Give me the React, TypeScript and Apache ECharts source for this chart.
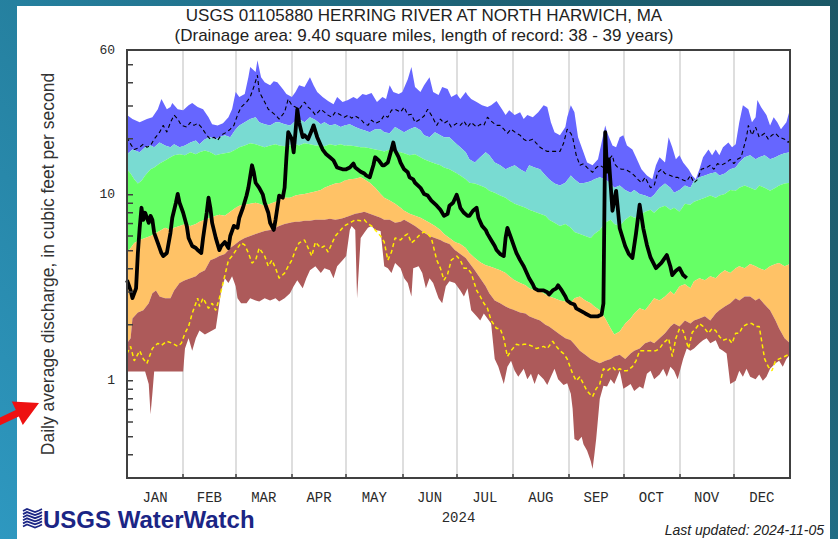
import React, { useEffect, useRef } from "react";
import * as echarts from "echarts";

type Pt = [number, number];

const TITLE = "USGS 01105880 HERRING RIVER AT NORTH HARWICH, MA";
const SUBTITLE = "(Drainage area: 9.40 square miles, length of record: 38 - 39 years)";
const Y_NAME = "Daily average discharge, in cubic feet per second";
const UPDATED = "Last updated: 2024-11-05";
const MONTHS = ["JAN", "FEB", "MAR", "APR", "MAY", "JUN", "JUL", "AUG", "SEP", "OCT", "NOV", "DEC"];
const MONTH_START_DAY = [0, 31, 60, 91, 121, 152, 182, 213, 244, 274, 305, 335, 366];
const YEAR_LABEL = "2024";
const Y_LABELS = [1, 10, 60];
const Y_TICKS = [0.4, 0.5, 0.6, 0.7, 0.8, 0.9, 1, 2, 3, 4, 5, 6, 7, 8, 9, 10, 20, 30, 40, 50];

// [day of year, cfs]
const MAX_FLOW: Pt[] = [[0,26.8],[3,25.5],[7,24.5],[11,25.5],[14,26.1],[17,28.8],[19,32.7],[22,28.8],[24,29.6],[25,31.1],[28,28.8],[31,28.5],[34,30.3],[36,31.1],[39,29.6],[42,28.8],[45,26.1],[47,23.9],[50,23.6],[53,24.2],[56,26.1],[58,28.8],[60,35.7],[62,33.5],[65,34.8],[67,42.8],[68,48.6],[71,45.7],[72,52.9],[74,42.8],[76,40.3],[79,38.8],[81,40.8],[83,40.3],[86,37.0],[88,34.8],[91,33.5],[93,35.7],[95,38.8],[98,38.0],[101,42.8],[103,38.8],[105,35.7],[108,33.5],[111,31.9],[114,30.7],[116,33.5],[119,31.5],[122,32.3],[125,33.5],[127,32.7],[130,34.8],[132,34.4],[135,35.2],[138,31.5],[141,33.5],[143,32.7],[145,38.8],[147,35.7],[150,34.8],[152,35.7],[155,41.8],[157,48.6],[159,38.0],[162,35.7],[164,38.8],[167,42.8],[169,35.7],[172,34.4],[174,38.0],[177,37.0],[179,33.5],[182,34.8],[184,32.7],[187,35.7],[188,34.4],[190,32.7],[193,31.5],[196,30.3],[199,29.6],[201,30.3],[204,31.9],[207,28.8],[209,26.8],[211,28.5],[214,26.8],[217,27.8],[219,25.5],[221,26.8],[224,26.1],[227,27.8],[230,30.3],[232,29.6],[234,24.5],[236,21.7],[239,20.9],[242,23.1],[243,26.1],[245,30.3],[247,27.8],[249,20.4],[252,16.9],[254,14.9],[257,14.4],[260,15.5],[262,19.1],[264,23.6],[265,21.7],[268,18.4],[270,18.0],[272,20.4],[274,20.9],[276,18.4],[279,17.5],[281,15.9],[284,13.7],[287,12.7],[290,12.1],[292,14.4],[294,15.9],[297,14.9],[299,20.4],[301,18.0],[303,15.5],[305,16.3],[307,14.9],[310,13.7],[312,12.7],[314,12.1],[316,13.7],[318,15.9],[321,17.5],[323,16.3],[325,17.5],[327,16.3],[329,18.0],[332,19.1],[334,18.0],[336,18.7],[338,24.5],[340,30.3],[343,28.8],[345,24.5],[347,26.1],[348,32.3],[350,29.6],[353,26.8],[355,23.6],[357,26.1],[359,24.5],[361,22.5],[364,24.5],[366,28.8]];

const P90_FLOW: Pt[] = [[0,16.5],[3,17.5],[7,16.9],[10,18.0],[13,18.4],[15,18.0],[18,19.1],[21,18.4],[24,18.0],[26,18.7],[29,18.0],[32,18.4],[35,19.1],[38,19.6],[40,18.7],[43,19.9],[46,20.4],[49,19.9],[51,20.4],[54,20.9],[57,20.4],[60,22.5],[62,23.6],[65,24.5],[68,25.5],[71,26.1],[73,24.5],[76,23.9],[79,23.6],[82,24.5],[84,24.5],[87,23.9],[90,23.6],[93,24.9],[95,25.5],[98,24.5],[101,26.1],[104,25.2],[107,23.9],[109,24.5],[112,23.6],[115,23.9],[118,23.1],[120,23.6],[123,23.9],[126,23.1],[129,22.5],[131,22.2],[134,21.7],[137,22.5],[140,22.5],[142,21.7],[145,21.4],[148,23.1],[151,22.2],[153,21.7],[156,22.5],[159,23.1],[162,22.2],[164,20.9],[167,20.4],[170,21.7],[173,20.9],[175,20.4],[178,20.4],[181,19.1],[184,18.0],[187,16.9],[189,15.5],[192,14.9],[195,15.9],[198,16.9],[200,16.3],[203,14.9],[206,14.4],[209,13.7],[211,14.0],[214,14.4],[217,13.7],[220,13.2],[222,14.4],[225,14.0],[228,13.7],[231,12.7],[233,12.1],[236,11.5],[239,11.2],[242,11.6],[245,12.7],[247,12.1],[250,11.5],[253,11.6],[256,11.8],[258,12.1],[261,12.4],[264,12.1],[267,11.5],[269,10.9],[272,11.2],[275,10.6],[278,10.25],[280,10.6],[283,10.1],[286,9.9],[289,9.64],[291,10.0],[294,10.9],[297,11.5],[300,10.9],[302,10.25],[305,10.6],[308,11.2],[311,10.9],[313,11.9],[316,12.4],[319,12.7],[322,13.0],[325,13.2],[327,12.7],[330,13.0],[333,13.7],[336,14.0],[338,14.9],[341,15.9],[344,16.3],[347,15.5],[349,15.9],[352,16.3],[355,15.5],[358,15.9],[360,16.3],[363,16.7],[366,16.9]];

const P75_FLOW: Pt[] = [[0,13.7],[2,13.0],[4,12.1],[6,11.5],[8,11.9],[10,12.7],[13,13.7],[15,14.0],[18,14.7],[21,15.3],[24,15.9],[26,16.3],[29,16.5],[32,16.3],[35,16.9],[38,16.5],[40,16.9],[43,17.3],[46,16.9],[49,16.3],[51,16.5],[54,16.7],[57,16.9],[60,17.5],[62,18.0],[65,18.4],[68,18.9],[71,18.7],[73,18.4],[76,18.0],[79,18.4],[82,18.7],[84,18.4],[87,18.2],[90,18.4],[93,18.7],[95,18.4],[98,18.9],[101,18.7],[104,18.4],[107,18.4],[109,18.2],[112,18.7],[115,18.4],[118,18.7],[120,18.4],[123,18.4],[126,18.2],[129,18.0],[131,18.0],[134,17.8],[137,17.5],[140,17.3],[142,17.1],[145,17.5],[148,17.1],[151,16.9],[153,16.7],[156,16.3],[159,16.5],[162,15.9],[164,15.5],[167,15.1],[170,14.7],[173,14.4],[175,14.0],[178,13.7],[181,13.2],[184,12.7],[187,12.1],[189,11.6],[192,11.5],[195,11.2],[198,10.9],[200,10.5],[203,10.25],[206,9.9],[209,9.64],[211,9.3],[214,8.95],[217,8.73],[220,8.51],[222,8.3],[225,8.1],[228,7.9],[231,7.7],[233,7.33],[236,7.06],[239,6.8],[242,6.97],[245,6.64],[247,6.31],[250,6.16],[253,6.0],[256,5.86],[258,6.16],[261,6.47],[264,7.06],[267,7.33],[269,6.97],[272,6.8],[275,7.33],[278,7.7],[280,7.52],[283,7.7],[286,8.1],[289,8.3],[291,8.0],[294,8.51],[297,8.73],[300,8.3],[302,8.51],[305,8.1],[308,8.95],[311,8.84],[313,9.17],[316,9.4],[319,9.64],[322,9.9],[325,9.64],[327,9.9],[330,10.1],[333,10.6],[336,10.5],[338,10.9],[341,11.2],[344,10.9],[347,10.6],[349,11.2],[352,10.9],[355,10.5],[358,10.9],[360,11.2],[363,11.5],[366,11.6]];

const P25_FLOW: Pt[] = [[0,4.86],[2,5.17],[4,5.51],[7,5.71],[10,5.86],[13,6.0],[15,6.16],[18,6.39],[21,6.64],[24,6.47],[26,6.64],[29,6.8],[32,6.97],[35,6.8],[38,6.97],[40,7.15],[43,7.33],[46,7.52],[49,7.7],[51,7.8],[54,7.7],[57,8.1],[60,8.51],[62,8.73],[65,8.84],[68,8.95],[71,9.06],[73,8.95],[76,8.73],[79,8.95],[82,9.17],[84,9.4],[87,9.64],[90,9.64],[93,9.9],[95,10.0],[98,10.1],[101,10.25],[104,10.4],[107,10.6],[109,10.9],[112,11.2],[115,11.5],[118,11.6],[120,11.9],[123,12.1],[126,12.2],[129,12.4],[131,12.1],[134,11.6],[137,10.9],[140,10.1],[142,9.64],[145,9.3],[148,8.95],[151,8.51],[153,8.2],[156,7.9],[159,7.7],[162,7.52],[164,7.33],[167,7.06],[170,6.8],[173,6.47],[175,6.16],[178,5.86],[181,5.57],[184,5.44],[187,5.17],[189,4.86],[192,4.57],[195,4.34],[198,4.18],[200,4.13],[203,4.03],[206,3.93],[209,3.79],[211,3.65],[214,3.47],[217,3.35],[220,3.26],[222,3.14],[225,3.06],[228,3.03],[231,2.91],[233,2.84],[236,2.78],[239,2.7],[242,2.67],[245,2.61],[247,2.78],[250,2.84],[253,2.7],[256,2.61],[258,2.51],[261,2.39],[264,2.16],[267,1.91],[269,1.77],[272,1.84],[275,2.03],[278,2.16],[280,2.3],[283,2.45],[286,2.39],[289,2.61],[291,2.78],[294,2.7],[297,2.84],[300,3.03],[302,2.91],[305,3.22],[308,3.3],[311,3.14],[313,3.43],[316,3.56],[319,3.47],[322,3.65],[325,3.56],[327,3.74],[330,3.93],[333,3.79],[336,4.03],[338,4.13],[341,4.03],[344,4.24],[347,4.13],[349,4.03],[352,3.93],[355,4.13],[358,4.24],[360,4.29],[363,4.13],[366,4.24]];

const P10_FLOW: Pt[] = [[0,1.59],[2,1.69],[3,2.16],[6,2.33],[9,2.39],[12,2.61],[14,2.95],[16,3.06],[18,2.84],[21,2.78],[24,2.78],[26,3.06],[29,3.35],[32,3.47],[35,3.56],[38,3.65],[40,3.79],[43,3.93],[46,4.45],[49,4.57],[51,4.68],[54,4.8],[57,5.17],[60,5.44],[62,5.64],[65,5.86],[68,6.0],[71,6.16],[73,6.24],[76,6.39],[79,6.47],[82,6.64],[84,6.8],[87,6.97],[90,7.06],[93,7.15],[95,7.15],[98,7.24],[101,7.24],[104,7.33],[107,7.33],[109,7.33],[112,7.42],[115,7.33],[118,7.42],[120,7.52],[123,7.7],[126,7.9],[129,8.0],[131,8.1],[134,7.9],[137,7.7],[140,7.52],[142,7.33],[145,7.33],[148,7.06],[151,7.15],[153,7.33],[156,7.06],[159,6.8],[162,6.47],[164,6.24],[167,6.0],[170,5.86],[173,5.71],[175,5.57],[178,5.44],[181,5.04],[184,4.8],[187,4.57],[189,4.29],[192,3.93],[195,3.56],[198,3.22],[200,2.95],[203,2.7],[206,2.61],[209,2.51],[211,2.45],[214,2.39],[217,2.33],[220,2.3],[222,2.22],[225,2.16],[228,2.11],[231,2.0],[233,1.96],[236,1.86],[239,1.77],[242,1.69],[245,1.65],[247,1.57],[250,1.45],[253,1.38],[256,1.31],[258,1.28],[261,1.24],[264,1.28],[267,1.31],[269,1.35],[272,1.38],[275,1.31],[278,1.40],[280,1.45],[283,1.49],[286,1.59],[289,1.63],[291,1.59],[294,1.69],[297,1.80],[300,1.96],[302,2.03],[305,1.96],[308,2.11],[311,2.03],[313,2.11],[316,2.16],[319,2.22],[322,2.11],[325,2.3],[327,2.39],[330,2.51],[333,2.61],[336,2.78],[338,2.7],[341,2.84],[344,2.84],[347,2.7],[349,2.78],[352,2.57],[355,2.39],[358,2.11],[360,1.91],[363,1.69],[366,1.59]];

const MIN_FLOW: Pt[] = [[0,1.12],[10,1.12],[12,0.96],[13,0.66],[14,0.85],[15,1.12],[31,1.12],[32,1.49],[34,1.69],[36,1.45],[38,1.69],[40,1.86],[43,1.77],[46,1.84],[49,1.91],[50,2.22],[52,3.06],[54,3.56],[56,3.35],[58,3.65],[60,3.22],[61,2.78],[63,2.61],[66,2.61],[68,2.78],[71,2.7],[73,2.67],[76,2.78],[79,2.7],[82,2.78],[84,2.67],[87,2.78],[90,2.95],[92,3.22],[94,3.47],[97,3.14],[99,3.56],[101,3.93],[104,4.13],[107,3.79],[109,4.03],[112,3.93],[114,3.56],[116,4.13],[119,4.45],[121,4.68],[123,6.47],[124,6.8],[126,6.47],[127,2.78],[129,5.86],[131,6.24],[133,6.64],[135,6.8],[137,6.47],[140,6.39],[142,4.13],[144,4.03],[146,3.79],[148,4.29],[151,4.03],[153,3.56],[155,3.35],[157,2.84],[158,4.03],[161,4.13],[163,3.79],[165,3.14],[167,3.56],[169,3.35],[172,2.78],[174,2.61],[176,3.22],[178,3.43],[181,3.35],[184,3.06],[186,2.84],[188,3.14],[190,2.39],[193,2.22],[195,2.11],[197,2.3],[199,2.16],[201,2.03],[203,1.31],[205,1.19],[208,0.96],[210,1.19],[212,1.28],[214,1.13],[216,1.05],[219,1.16],[221,1.02],[223,1.09],[225,0.96],[227,1.09],[230,1.02],[232,0.95],[234,1.05],[236,1.16],[238,1.02],[241,0.95],[243,0.97],[245,0.85],[246,0.706],[247,0.486],[249,0.474],[251,0.5],[252,0.456],[254,0.42],[256,0.37],[257,0.335],[258,0.4],[259,0.486],[261,0.8],[263,0.94],[265,0.93],[267,1.02],[269,0.96],[272,1.13],[274,0.905],[276,0.93],[278,0.96],[280,0.88],[283,0.93],[285,0.905],[287,1.09],[289,1.13],[291,1.02],[294,1.08],[296,1.16],[298,1.05],[300,1.19],[302,1.13],[304,1.02],[307,1.31],[309,1.49],[311,1.45],[313,1.49],[316,1.59],[318,1.65],[320,1.69],[322,1.59],[325,1.65],[327,1.49],[329,1.45],[331,1.4],[333,0.96],[336,1.0],[338,1.13],[340,1.05],[342,1.16],[344,1.05],[347,1.02],[349,1.08],[351,1.0],[353,1.05],[355,1.16],[358,1.24],[360,1.28],[362,1.19],[364,1.31],[366,1.38]];

const MEAN_FLOW: Pt[] = [[0,20.4],[2,18.7],[4,17.5],[7,18.0],[9,18.7],[11,18.0],[13,18.4],[15,19.9],[18,21.7],[20,23.6],[22,21.7],[24,24.5],[26,26.8],[28,25.5],[30,23.6],[33,23.1],[35,24.5],[37,23.6],[39,24.2],[41,23.1],[44,20.9],[46,19.9],[48,20.4],[50,19.6],[52,20.9],[55,21.7],[57,22.5],[59,23.6],[61,26.8],[63,29.6],[66,31.5],[68,33.5],[70,38.0],[72,43.9],[73,35.7],[76,31.5],[78,28.8],[80,27.8],[82,26.8],[84,25.5],[87,27.8],[89,32.7],[91,30.3],[93,29.6],[95,28.8],[98,31.5],[100,29.6],[102,28.5],[104,26.8],[107,28.8],[109,27.8],[111,26.8],[113,26.1],[115,27.8],[118,26.8],[120,26.1],[122,26.8],[124,25.8],[126,26.5],[129,25.5],[131,24.2],[133,23.6],[135,25.2],[137,24.2],[140,24.9],[142,26.8],[144,26.1],[146,28.5],[148,28.8],[151,27.8],[153,29.6],[155,26.8],[157,27.1],[159,24.5],[162,25.5],[164,26.5],[166,28.8],[168,26.8],[171,23.6],[173,25.5],[175,24.2],[177,24.9],[179,23.1],[182,24.2],[184,23.6],[186,24.9],[188,23.1],[190,24.5],[193,23.1],[195,23.9],[197,23.6],[199,26.1],[201,24.9],[204,23.6],[206,23.6],[208,22.5],[210,21.4],[212,22.5],[215,21.4],[217,20.9],[219,19.9],[221,19.4],[224,19.9],[226,18.9],[228,18.0],[230,17.5],[232,17.1],[235,17.1],[237,17.1],[239,17.1],[241,18.9],[243,22.5],[245,21.4],[246,20.4],[248,16.3],[250,14.4],[252,14.7],[254,14.0],[257,13.2],[259,14.0],[261,14.4],[263,14.0],[264,14.4],[266,15.5],[268,16.3],[269,14.7],[271,14.0],[273,13.7],[275,13.7],[278,13.2],[280,12.7],[282,12.1],[284,11.6],[286,12.4],[289,10.9],[291,11.2],[293,13.2],[295,13.7],[297,13.0],[300,12.7],[302,12.4],[304,12.4],[306,12.1],[309,11.8],[311,12.7],[313,11.6],[315,12.1],[317,13.7],[320,14.0],[322,14.4],[324,13.7],[326,14.7],[328,14.4],[331,14.9],[333,15.5],[335,14.7],[337,15.5],[339,15.9],[342,20.4],[343,23.6],[345,20.9],[347,23.1],[349,20.4],[352,21.4],[354,19.9],[356,20.9],[358,21.4],[360,20.4],[363,19.9],[365,19.1],[366,19.6]];

const LOW_FLOW: Pt[] = [[0,1.4],[2,1.53],[4,1.28],[7,1.45],[9,1.31],[11,1.24],[13,1.4],[14,1.49],[17,1.59],[19,1.55],[22,1.63],[25,1.59],[28,1.53],[30,1.59],[32,1.8],[34,1.96],[36,2.3],[39,2.78],[40,2.51],[42,2.78],[45,2.45],[47,2.61],[49,2.39],[51,2.78],[53,3.35],[55,4.03],[56,4.45],[58,4.68],[61,5.17],[63,5.51],[65,5.37],[67,4.86],[69,4.29],[71,4.45],[73,5.17],[76,4.68],[78,4.13],[80,4.45],[82,4.03],[84,3.56],[87,3.79],[89,4.13],[91,4.45],[93,5.04],[95,5.51],[98,5.71],[100,5.17],[102,4.68],[104,5.57],[107,5.17],[109,5.3],[111,4.92],[113,5.44],[115,6.0],[118,6.47],[120,6.8],[122,6.97],[124,7.15],[126,7.33],[129,7.24],[131,7.33],[133,6.97],[135,6.8],[137,6.47],[140,6.0],[142,5.57],[144,4.45],[146,4.92],[148,5.86],[151,5.71],[153,6.0],[155,6.16],[157,5.51],[159,5.71],[162,6.16],[164,6.31],[166,6.16],[168,5.86],[171,4.45],[173,4.03],[175,3.47],[177,3.74],[179,4.45],[182,4.68],[184,4.45],[186,4.03],[188,4.03],[190,3.79],[193,3.06],[195,2.84],[197,2.61],[199,2.45],[201,2.11],[204,1.91],[206,1.91],[208,1.69],[210,1.35],[212,1.45],[215,1.57],[217,1.55],[219,1.57],[221,1.57],[224,1.53],[226,1.49],[228,1.51],[230,1.53],[232,1.49],[235,1.63],[237,1.53],[239,1.45],[241,1.4],[243,1.31],[246,1.09],[248,1.0],[250,1.05],[252,0.96],[254,0.88],[257,0.82],[259,0.905],[261,0.96],[263,1.16],[265,1.13],[268,1.19],[270,1.13],[272,1.16],[274,1.13],[276,1.13],[279,1.19],[281,1.28],[283,1.45],[285,1.45],[288,1.45],[290,1.45],[292,1.45],[294,1.49],[296,1.59],[299,1.69],[301,1.35],[303,1.69],[305,1.91],[307,1.86],[310,1.49],[312,1.82],[314,1.91],[316,2.03],[318,1.96],[321,1.8],[323,1.91],[325,1.86],[327,1.73],[329,1.65],[332,1.69],[334,1.59],[336,1.8],[338,1.8],[340,1.96],[343,2.03],[345,2.03],[347,1.96],[349,1.96],[352,1.31],[354,1.19],[356,1.13],[358,1.28],[360,1.31],[363,1.35],[365,1.38],[366,1.4]];

const FLOW_2024: Pt[] = [[0,3.47],[2,3.06],[3,2.78],[5,3.14],[6,4.86],[7,6.64],[8,8.51],[9,7.33],[10,8.0],[12,7.06],[13,7.7],[14,7.33],[15,6.24],[17,5.51],[19,4.86],[20,4.68],[22,4.86],[24,6.24],[25,7.52],[27,9.06],[28,10.1],[29,9.06],[31,8.0],[33,6.8],[34,5.86],[36,5.3],[38,5.17],[39,5.04],[41,4.86],[42,5.86],[44,8.0],[45,9.64],[46,8.51],[47,7.06],[49,5.86],[51,5.04],[52,5.3],[54,5.57],[56,5.17],[57,6.0],[59,6.8],[61,6.64],[62,7.52],[64,8.51],[66,9.9],[67,10.9],[69,14.4],[70,13.2],[71,11.6],[73,10.9],[75,10.0],[76,9.06],[78,8.0],[79,7.06],[81,6.47],[82,7.33],[84,9.9],[86,9.64],[87,10.9],[88,15.9],[89,21.7],[91,19.9],[92,16.9],[93,21.7],[94,28.8],[95,24.5],[97,20.4],[98,20.9],[100,19.9],[102,22.2],[103,23.6],[105,20.4],[107,18.4],[108,17.5],[110,16.5],[112,15.9],[114,15.3],[116,14.0],[119,13.7],[121,13.7],[123,14.0],[125,14.7],[126,14.0],[129,13.3],[131,13.0],[132,12.7],[134,12.4],[136,14.4],[137,15.9],[139,15.3],[141,14.4],[142,14.4],[144,14.9],[146,17.5],[147,19.1],[148,17.3],[150,15.9],[151,14.9],[153,13.7],[155,13.2],[156,12.4],[158,12.1],[159,11.6],[162,10.9],[164,10.1],[166,9.9],[168,9.3],[171,8.73],[173,8.3],[175,7.7],[177,7.9],[178,8.73],[180,9.06],[182,10.0],[183,9.3],[184,8.51],[186,8.0],[188,7.7],[189,7.7],[191,8.2],[193,8.51],[194,7.52],[196,6.8],[198,6.47],[199,6.16],[201,5.71],[203,5.3],[204,5.04],[206,4.8],[208,4.68],[209,5.86],[210,6.64],[212,5.86],[214,5.17],[215,4.86],[217,4.45],[219,4.13],[220,3.93],[222,3.56],[224,3.3],[225,3.14],[227,3.06],[228,3.06],[230,3.06],[232,2.99],[233,2.91],[235,3.06],[237,3.14],[238,3.26],[240,3.06],[242,2.84],[243,2.7],[245,2.61],[247,2.57],[248,2.45],[250,2.39],[252,2.33],[253,2.3],[256,2.22],[258,2.22],[260,2.22],[262,2.27],[263,2.6],[264,21.7],[265,13.3],[266,15.5],[268,8.2],[270,10.5],[272,6.6],[275,5.3],[277,4.8],[279,4.57],[281,6.2],[283,8.84],[285,6.6],[287,5.37],[289,4.6],[292,4.03],[295,4.3],[298,4.74],[300,4.1],[301,3.7],[303,3.9],[305,4.03],[307,3.7],[309,3.56]];

const BANDS = [
  { name: "Maximum to 90th percentile", upper: MAX_FLOW, lower: P90_FLOW, color: "#6666ff" },
  { name: "90th to 75th percentile", upper: P90_FLOW, lower: P75_FLOW, color: "#79dbd2" },
  { name: "75th to 25th percentile", upper: P75_FLOW, lower: P25_FLOW, color: "#66ff66" },
  { name: "25th to 10th percentile", upper: P25_FLOW, lower: P10_FLOW, color: "#ffc266" },
  { name: "10th percentile to minimum", upper: P10_FLOW, lower: MIN_FLOW, color: "#ad5a5a" },
];

const MONO = "'Liberation Mono', 'DejaVu Sans Mono', monospace";
const SANS = "'Liberation Sans', Arial, sans-serif";

export default function App() {
  const ref = useRef<HTMLDivElement>(null);
  useEffect(() => {
    if (!ref.current) return;
    const chart = echarts.init(ref.current, undefined, { renderer: "svg" });
    const monthMid = MONTHS.map((_, i) => (MONTH_START_DAY[i] + MONTH_START_DAY[i + 1]) / 2);

    const bandSeries = BANDS.map((b) => ({
      type: "custom",
      name: b.name,
      silent: true,
      z: 2,
      data: [[0, 1]],
      renderItem: (_p: any, api: any) => {
        const pts: number[][] = [];
        for (const [d, v] of b.upper) pts.push(api.coord([d, v]));
        for (let i = b.lower.length - 1; i >= 0; i--) pts.push(api.coord([b.lower[i][0], b.lower[i][1]]));
        return { type: "polygon", shape: { points: pts }, style: { fill: b.color, stroke: null } };
      },
    }));

    const wave: any[] = [];
    for (let i = 0; i < 6; i++) {
      const y0 = 509 + i * 3.1;
      wave.push({
        type: "polyline",
        shape: { points: [[23, y0 + 2], [27, y0], [31, y0 + 1.5], [35, y0 + 3], [39, y0 + 1.5], [42, y0]] },
        style: { stroke: "#1b2585", lineWidth: 1.8, fill: null },
        z: 20,
      });
    }

    chart.setOption({
      animation: false,
      backgroundColor: "transparent",
      grid: {
        left: 127, top: 50, width: 663, height: 428, show: true, z: 10,
        backgroundColor: "rgba(0,0,0,0)", borderColor: "#404040", borderWidth: 2,
      },
      xAxis: {
        type: "value", min: 0, max: 366,
        axisLine: { show: true, lineStyle: { color: "#404040", width: 2 } },
        axisTick: { show: true, inside: true, length: 4, customValues: MONTH_START_DAY, lineStyle: { color: "#404040", width: 1.5 } },
        axisLabel: {
          customValues: monthMid,
          formatter: (v: number) => {
            const i = monthMid.findIndex((m) => Math.abs(m - v) < 0.01);
            return i >= 0 ? MONTHS[i] : "";
          },
          fontFamily: MONO, fontSize: 14, color: "#2a2a2a", margin: 13,
        },
        splitLine: { show: true, lineStyle: { color: "#dedede", width: 2 } },
        name: YEAR_LABEL, nameLocation: "middle", nameGap: 33,
        nameTextStyle: { fontFamily: MONO, fontSize: 14, color: "#2a2a2a" },
      },
      yAxis: {
        type: "log", logBase: 10, min: 0.3, max: 60,
        axisLine: { show: true, lineStyle: { color: "#404040", width: 2 } },
        axisTick: { show: false },
        splitLine: { show: false },
        axisLabel: {
          showMinLabel: false,
          formatter: (v: number) => {
            const r = Math.round(v * 100) / 100;
            return Y_LABELS.includes(r) ? String(r) : "";
          },
          fontFamily: MONO, fontSize: 13, color: "#2a2a2a", margin: 12,
        },
        name: Y_NAME, nameLocation: "middle", nameGap: 70, nameRotate: 90,
        nameTextStyle: { fontFamily: SANS, fontSize: 17.5, color: "#333" },
      },
      series: [
        ...bandSeries,
        {
          type: "line", name: "Low flow line", data: LOW_FLOW, showSymbol: false, symbol: "none", silent: true, z: 3,
          lineStyle: { color: "#ffee00", width: 1.5, type: [4, 3] },
        },
        {
          type: "line", name: "Long-term daily line", data: MEAN_FLOW, showSymbol: false, symbol: "none", silent: true, z: 3,
          lineStyle: { color: "#000", width: 1.1, type: [4, 3] },
        },
        {
          type: "line", name: "2024 daily flow", data: FLOW_2024, showSymbol: false, symbol: "none", silent: true, z: 4,
          lineStyle: { color: "#000", width: 3.8, join: "round" },
        },
        {
          type: "custom", name: "y ticks", silent: true, z: 11,
          data: Y_TICKS.map((v) => [0, v]),
          renderItem: (_p: any, api: any) => {
            const p = api.coord([api.value(0), api.value(1)]);
            return { type: "line", shape: { x1: p[0], y1: p[1], x2: p[0] + 6, y2: p[1] }, style: { stroke: "#404040", lineWidth: 1.5 } };
          },
        },
      ],
      graphic: [
        { type: "text", z: 20, style: { x: 424, y: 15, text: TITLE, font: `17px ${SANS}`, fill: "#222", textAlign: "center", textVerticalAlign: "middle" } },
        { type: "text", z: 20, style: { x: 424, y: 35, text: SUBTITLE, font: `17px ${SANS}`, fill: "#222", textAlign: "center", textVerticalAlign: "middle" } },
        {
          type: "polygon", z: 20,
          shape: { points: [[-4.5, 419.5], [15.8, 410], [11.8, 401.4], [39, 403], [22.8, 425], [18.8, 416.4], [-1.5, 425.9]] },
          style: { fill: "#ee1111" },
        },
        ...wave,
        { type: "text", z: 20, style: { x: 43, y: 519, text: "USGS WaterWatch", font: `bold 24px ${SANS}`, fill: "#1b2585", textAlign: "left", textVerticalAlign: "middle" } },
        { type: "text", z: 20, style: { x: 824, y: 530, text: UPDATED, font: `italic 14px ${SANS}`, fill: "#222", textAlign: "right", textVerticalAlign: "middle" } },
      ],
    });
    return () => chart.dispose();
  }, []);

  return (
    <div style={{ position: "fixed", left: 0, top: 0, width: 838, height: 539, overflow: "hidden",
      background: "linear-gradient(45deg, #2e98c0 0%, #25809f 40%, #1e6377 72%, #1b5866 100%)" }}>
      <div style={{ position: "absolute", left: 17, top: 6, width: 813, height: 533, background: "#fff" }} />
      <div ref={ref} style={{ position: "absolute", left: 0, top: 0, width: 838, height: 539 }} />
    </div>
  );
}
